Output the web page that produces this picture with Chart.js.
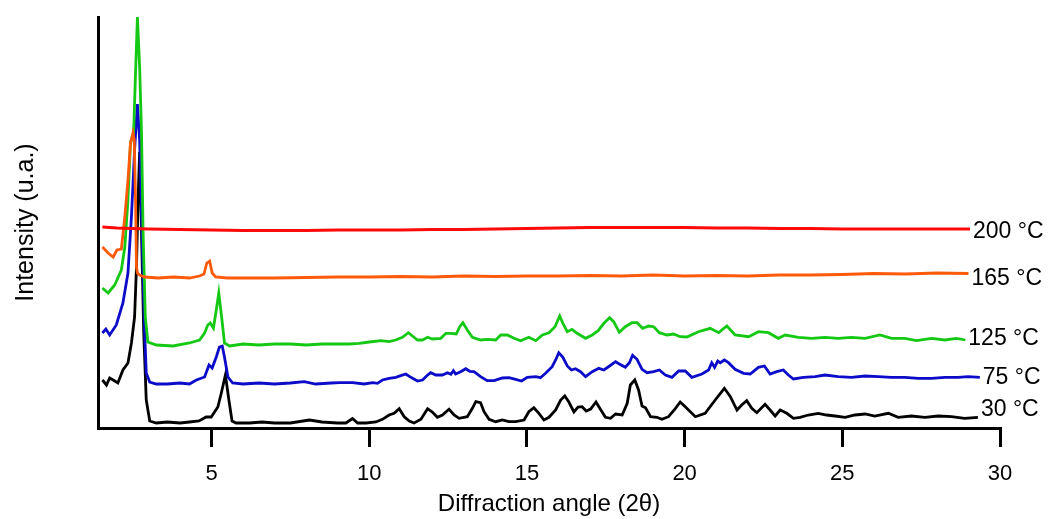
<!DOCTYPE html>
<html>
<head>
<meta charset="utf-8">
<script src="https://cdn.jsdelivr.net/npm/chart.js@4.4.1/dist/chart.umd.min.js"></script>
<style>
  body { margin: 0; background: #fff; }
  canvas { display: block; }
</style>
</head>
<body>
<canvas id="xrdChart" width="1050" height="519"></canvas>
<script>
// Diffraction angle ticks shown on the x axis
const xTicks = [5, 10, 15, 20, 25, 30];

// Series names (temperature of the sample)
const seriesLabels = ['30 °C', '75 °C', '125 °C', '165 °C', '200 °C'];

// 30 °C pattern
const angle30 = [1.54, 1.67, 1.77, 1.88, 2.03, 2.19, 2.35, 2.46, 2.56, 2.62, 2.67, 2.72, 2.78, 2.85, 2.93, 3.04, 3.25, 3.6, 4.0, 4.3, 4.6, 4.83, 4.99, 5.2, 5.31, 5.44, 5.55, 5.65, 5.78, 6.2, 6.6, 7.0, 7.5, 8.1, 8.5, 9.0, 9.26, 9.47, 9.63, 9.9, 10.21, 10.42, 10.63, 10.79, 10.95, 11.11, 11.27, 11.42, 11.64, 11.85, 12.0, 12.16, 12.32, 12.53, 12.69, 12.85, 13.11, 13.27, 13.38, 13.53, 13.64, 13.8, 14.01, 14.22, 14.43, 14.64, 14.91, 15.06, 15.22, 15.38, 15.54, 15.7, 15.91, 16.07, 16.2, 16.33, 16.49, 16.62, 16.75, 16.88, 17.02, 17.19, 17.33, 17.49, 17.65, 17.81, 18.02, 18.18, 18.28, 18.42, 18.54, 18.65, 18.76, 18.92, 19.12, 19.28, 19.49, 19.71, 19.86, 20.02, 20.34, 20.65, 20.97, 21.26, 21.45, 21.66, 21.81, 21.97, 22.13, 22.29, 22.55, 22.71, 22.87, 23.03, 23.24, 23.45, 23.66, 23.92, 24.24, 24.5, 24.77, 25.09, 25.4, 25.72, 26.03, 26.46, 26.77, 27.19, 27.62, 28.04, 28.46, 28.88, 29.3];
const int30 = [48, 43, 50, 48, 45, 58, 65, 85, 111, 161, 228, 276, 195, 95, 28, 7, 5, 6, 5, 6, 7, 11, 11, 21, 35, 53, 28, 7, 5, 5, 6, 5, 5, 8, 6, 5, 5, 9.5, 5, 5, 6, 8.7, 13, 14.7, 19.3, 11.3, 7, 5, 8.7, 19.3, 16, 10.7, 13, 18.7, 13, 9.7, 11.3, 19.7, 26.3, 25.3, 16.3, 8.7, 6.3, 8, 6.3, 6.3, 8, 16.3, 20.3, 14.7, 8, 10.7, 18, 28, 32, 26, 16, 21, 21.3, 17, 19, 26, 18.7, 10.7, 9.7, 14, 13, 24.7, 43, 48, 38, 22, 20.3, 11.3, 10.7, 8.7, 11.3, 19.7, 26, 21.3, 11.3, 14.7, 28, 39.7, 31.3, 18, 23, 27.3, 19.7, 15.3, 23.7, 18, 12, 18, 14.7, 9.7, 10.7, 13, 14.7, 13, 12, 10.7, 13, 14, 12, 14.7, 10.7, 12, 10.7, 12, 11.3, 9.7, 10.7];

// 75 °C pattern
const angle75 = [1.54, 1.65, 1.77, 1.98, 2.19, 2.35, 2.46, 2.56, 2.65, 2.72, 2.81, 2.88, 2.93, 3.04, 3.25, 3.6, 4.0, 4.3, 4.52, 4.78, 4.92, 5.02, 5.15, 5.25, 5.34, 5.41, 5.52, 5.67, 6.0, 6.5, 7.0, 7.5, 7.94, 8.3, 8.8, 9.05, 9.47, 9.84, 10.11, 10.26, 10.42, 10.63, 10.84, 11.0, 11.16, 11.32, 11.53, 11.69, 11.85, 11.95, 12.11, 12.32, 12.48, 12.59, 12.67, 12.74, 12.9, 13.06, 13.19, 13.32, 13.53, 13.74, 13.96, 14.22, 14.43, 14.64, 14.83, 15.01, 15.28, 15.43, 15.59, 15.8, 15.91, 16.01, 16.14, 16.28, 16.41, 16.54, 16.7, 16.86, 17.07, 17.28, 17.44, 17.62, 17.81, 17.93, 18.12, 18.25, 18.35, 18.49, 18.65, 18.81, 19.02, 19.2, 19.39, 19.6, 19.81, 20.02, 20.23, 20.55, 20.76, 20.86, 20.95, 21.05, 21.13, 21.26, 21.39, 21.6, 21.87, 22.08, 22.34, 22.53, 22.71, 22.92, 23.13, 23.29, 23.45, 23.77, 24.14, 24.45, 24.87, 25.29, 25.72, 26.14, 26.56, 26.98, 27.41, 27.83, 28.25, 28.67, 28.99, 29.36];
const int75 = [95, 99, 93, 103, 125, 155, 211, 278, 324, 288, 178, 95, 55, 46, 44, 44, 45, 44, 48, 51, 63, 60, 71, 81, 82, 71, 51, 45, 44, 45, 44, 45, 46.3, 44, 45, 45.3, 45.3, 44, 45.3, 44.7, 48, 49.7, 50.7, 52.3, 54, 50.7, 47, 48, 53, 55.3, 53, 53, 55.3, 53.7, 57.3, 54, 56.3, 59.3, 56.7, 56.3, 51.3, 47.3, 47.3, 50, 50.3, 48.7, 47, 50.7, 51.3, 50.3, 54.7, 61.3, 68, 75.3, 70.7, 62, 58, 59.3, 56.3, 51.3, 56.3, 59.7, 58, 62, 66.3, 64, 60.7, 65.3, 72.7, 68.7, 58.7, 55.3, 56.3, 58, 53, 50.7, 57, 57, 50.7, 54, 58, 65.3, 60.7, 67, 65.3, 68, 65.3, 58.7, 54.7, 54, 60.7, 62, 54, 56.3, 58, 53, 49, 50.7, 51.3, 53, 51.3, 50.7, 52, 51.3, 50.7, 50.7, 49.7, 49.7, 50.7, 50.7, 51.3, 50.7];

// 125 °C pattern
const angle125 = [1.54, 1.72, 1.93, 2.14, 2.25, 2.35, 2.43, 2.53, 2.59, 2.65, 2.72, 2.78, 2.83, 2.9, 2.98, 3.25, 3.78, 4.3, 4.62, 4.78, 4.88, 4.96, 5.06, 5.15, 5.23, 5.32, 5.41, 5.57, 6.0, 6.5, 7.0, 7.5, 8.0, 8.5, 9.05, 9.37, 9.68, 10.0, 10.37, 10.63, 10.84, 11.05, 11.24, 11.37, 11.53, 11.69, 11.85, 12.0, 12.27, 12.43, 12.59, 12.76, 12.87, 12.97, 13.11, 13.27, 13.53, 13.74, 14.01, 14.17, 14.38, 14.59, 14.8, 15.06, 15.28, 15.49, 15.7, 15.89, 16.04, 16.14, 16.28, 16.43, 16.59, 16.86, 17.07, 17.26, 17.44, 17.62, 17.75, 17.93, 18.12, 18.33, 18.49, 18.67, 18.86, 19.02, 19.2, 19.44, 19.65, 19.86, 20.07, 20.44, 20.81, 21.08, 21.34, 21.6, 22.03, 22.34, 22.66, 22.97, 23.19, 23.61, 24.03, 24.45, 24.87, 25.29, 25.72, 26.19, 26.56, 26.98, 27.35, 27.83, 28.25, 28.62, 28.9];
const int125 = [140, 135, 143, 158, 181, 228, 285, 296, 355, 411, 361, 295, 195, 111, 86, 83, 82, 85, 88, 95, 103, 105, 100, 118, 135, 111, 85, 82, 84, 83, 84, 84, 83, 84, 84, 84, 84.7, 86, 87.3, 86.3, 88, 90.7, 95.3, 92, 88, 88, 90.7, 89, 89.7, 94.7, 94.7, 94, 101.3, 105.3, 98, 90.7, 88, 88.7, 88, 93, 93, 89.7, 87.3, 90.7, 87.3, 93, 95.3, 101.3, 112, 104.7, 96.3, 98.7, 94.7, 89.7, 93, 97.3, 104.7, 110.3, 106.3, 95.7, 101.3, 105.3, 105.3, 99.7, 102, 101.3, 95.3, 93, 94, 91.3, 91, 96.3, 99.7, 95.3, 102, 93, 91.3, 96.3, 95.3, 89.7, 93, 90.7, 89.7, 90.7, 89.7, 90.7, 89.7, 93, 89.7, 89.7, 87.3, 89.7, 88, 89.7, 88];

// 165 °C pattern
const angle165 = [1.54, 1.72, 1.88, 2.0, 2.14, 2.25, 2.35, 2.43, 2.51, 2.55, 2.59, 2.62, 2.65, 2.72, 2.88, 3.3, 3.8, 4.3, 4.62, 4.76, 4.85, 4.94, 5.02, 5.13, 5.5, 6.0, 7.0, 8.0, 9.0, 10.0, 11.0, 12.0, 13.0, 14.0, 15.0, 16.0, 17.0, 18.0, 19.0, 20.0, 21.0, 22.0, 23.0, 24.0, 25.0, 26.0, 27.0, 28.0, 29.0];
const int165 = [181, 175, 171, 178, 179, 211, 248, 285, 295, 288, 228, 161, 155, 153, 151, 150, 151, 150, 152, 154, 165, 167, 155, 151, 150, 150, 150, 150.5, 151, 151, 151.5, 151, 152, 151.5, 152, 152, 152.5, 152, 153, 152, 152.5, 152, 153, 153, 153.5, 154.5, 154, 155, 154.5];

// 200 °C pattern
const angle200 = [1.54, 2.0, 2.5, 3.0, 4.0, 5.0, 6.0, 7.0, 8.0, 9.0, 10.0, 11.0, 12.0, 13.0, 14.0, 15.0, 16.0, 17.0, 18.0, 19.0, 20.0, 21.0, 22.0, 23.0, 24.0, 25.0, 26.0, 27.0, 28.0, 29.05];
const int200 = [201, 200, 199.5, 199, 198.5, 198, 197.5, 197.5, 197.5, 198, 198, 198, 198.5, 198.5, 199, 199.5, 200, 200.5, 200.5, 200.5, 200.5, 200, 200, 199.5, 199.5, 199, 199, 199, 199, 199];

function toPoints(xs, ys) {
  return xs.map((x, i) => ({ x: x, y: ys[i] }));
}

const FONT = "'Liberation Sans', Arial, sans-serif";

// Writes the temperature next to the end of each trace
const endLabels = {
  id: 'endLabels',
  afterDatasetsDraw(chart) {
    const ctx = chart.ctx;
    const xScale = chart.scales.x;
    const yScale = chart.scales.y;
    ctx.save();
    ctx.font = '23px ' + FONT;
    ctx.fillStyle = '#000';
    ctx.textAlign = 'left';
    ctx.textBaseline = 'middle';
    chart.data.datasets.forEach(ds => {
      const last = ds.data[ds.data.length - 1];
      const px = xScale.getPixelForValue(last.x);
      const py = yScale.getPixelForValue(last.y);
      ctx.fillText(ds.label, px + 3, py + (ds.labelDy || 0));
    });
    ctx.restore();
  }
};

function lineSet(label, xs, ys, color, labelDy) {
  return {
    label: label,
    data: toPoints(xs, ys),
    borderColor: color,
    borderWidth: 2.8,
    pointRadius: 0,
    tension: 0,
    fill: false,
    labelDy: labelDy
  };
}

const ctx = document.getElementById('xrdChart').getContext('2d');
new Chart(ctx, {
  type: 'line',
  data: {
    datasets: [
      lineSet(seriesLabels[4], angle200, int200, '#ff0a0a', 3),
      lineSet(seriesLabels[3], angle165, int165, '#ff5a0a', 5),
      lineSet(seriesLabels[2], angle125, int125, '#14c814', -1),
      lineSet(seriesLabels[1], angle75, int75, '#0b0bc9', 0),
      lineSet(seriesLabels[0], angle30, int30, '#000000', -8)
    ]
  },
  options: {
    responsive: false,
    animation: false,
    devicePixelRatio: 1,
    layout: { padding: { top: 17, right: 50, left: 0, bottom: 0 } },
    plugins: {
      legend: { display: false },
      tooltip: { enabled: false }
    },
    scales: {
      x: {
        type: 'linear',
        min: 1.4,
        max: 30,
        afterBuildTicks: scale => {
          scale.ticks = xTicks.map(v => ({ value: v }));
        },
        afterFit: scale => { scale.height = 91; },
        ticks: {
          color: '#000',
          font: { family: FONT, size: 22 },
          padding: 14,
          maxRotation: 0
        },
        grid: {
          drawOnChartArea: false,
          drawTicks: true,
          tickLength: 19,
          lineWidth: 3,
          color: '#000'
        },
        border: { display: true, color: '#000', width: 3 },
        title: {
          display: true,
          text: 'Diffraction angle (2θ)',
          color: '#000',
          font: { family: FONT, size: 24 },
          padding: { top: 0, bottom: 0 }
        }
      },
      y: {
        type: 'linear',
        min: 0,
        max: 411,
        afterFit: scale => { scale.width = 98; },
        ticks: { display: false },
        grid: { display: false },
        border: { display: true, color: '#000', width: 3 },
        title: {
          display: true,
          text: 'Intensity (u.a.)',
          color: '#000',
          font: { family: FONT, size: 25 },
          padding: { top: 11, bottom: 0 }
        }
      }
    }
  },
  plugins: [endLabels]
});
</script>
</body>
</html>
